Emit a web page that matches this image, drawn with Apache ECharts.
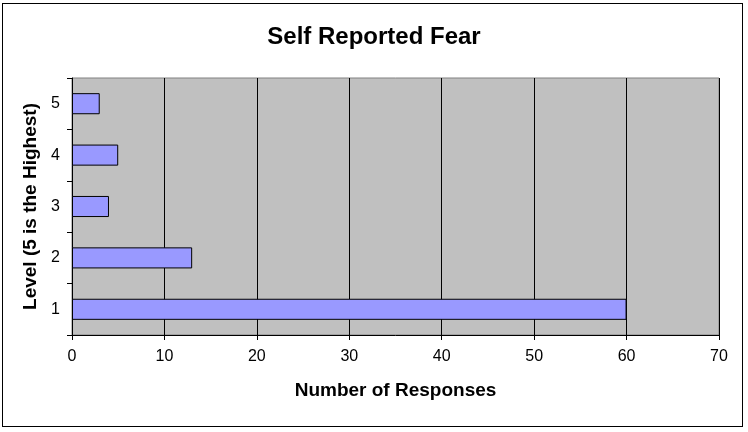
<!DOCTYPE html>
<html><head><meta charset="utf-8">
<script src="https://cdn.jsdelivr.net/npm/echarts@6/dist/echarts.min.js"></script>
<style>html,body{margin:0;padding:0;background:#fff}#c{width:748px;height:432px}
#frame{position:absolute;left:2px;top:3px;width:741px;height:424px;border:1.5px solid #000;box-sizing:border-box;pointer-events:none}</style>
</head><body><div id="c"></div><div id="frame"></div>
<script>
var categories = ['1','2','3','4','5'];
var responses = [60, 13, 4, 5, 3];
var xTicks = [0,10,20,30,40,50,60,70];
var chart = echarts.init(document.getElementById('c'), null, {renderer:'canvas'});
chart.setOption({
  animation:false,
  title:{text:'Self Reported Fear', left:'center', top:20, textStyle:{fontFamily:'Liberation Sans, Arial', fontWeight:'bold', fontSize:24, color:'#000'}},
  grid:{left:72, right:29, top:78, bottom:97, show:true, backgroundColor:'#c0c0c0', borderColor:'#808080', borderWidth:1},
  xAxis:{type:'value', min:0, max:70, interval:10,
    name:'Number of Responses', nameLocation:'middle', nameGap:46,
    nameTextStyle:{fontFamily:'Liberation Sans, Arial', fontWeight:'bold', fontSize:19, color:'#000'},
    axisLine:{show:true, lineStyle:{color:'#000'}},
    axisTick:{show:true, length:5, lineStyle:{color:'#000'}},
    axisLabel:{fontFamily:'Liberation Sans, Arial', fontSize:16, color:'#000', margin:14},
    splitLine:{show:true, lineStyle:{color:'#000', width:1}}},
  yAxis:{type:'category', data:categories,
    name:'Level (5 is the Highest)', nameLocation:'middle', nameGap:31, nameRotate:90,
    nameTextStyle:{fontFamily:'Liberation Sans, Arial', fontWeight:'bold', fontSize:19, color:'#000'},
    axisLine:{show:true, lineStyle:{color:'#000'}},
    axisTick:{show:true, length:5, lineStyle:{color:'#000'}},
    axisLabel:{fontFamily:'Liberation Sans, Arial', fontSize:16, color:'#000', margin:12},
    splitLine:{show:false}},
  series:[{type:'bar', data:responses, barCategoryGap:'59%',
    itemStyle:{color:'#9999ff', borderColor:'#000', borderWidth:1}}]
});
</script></body></html>
